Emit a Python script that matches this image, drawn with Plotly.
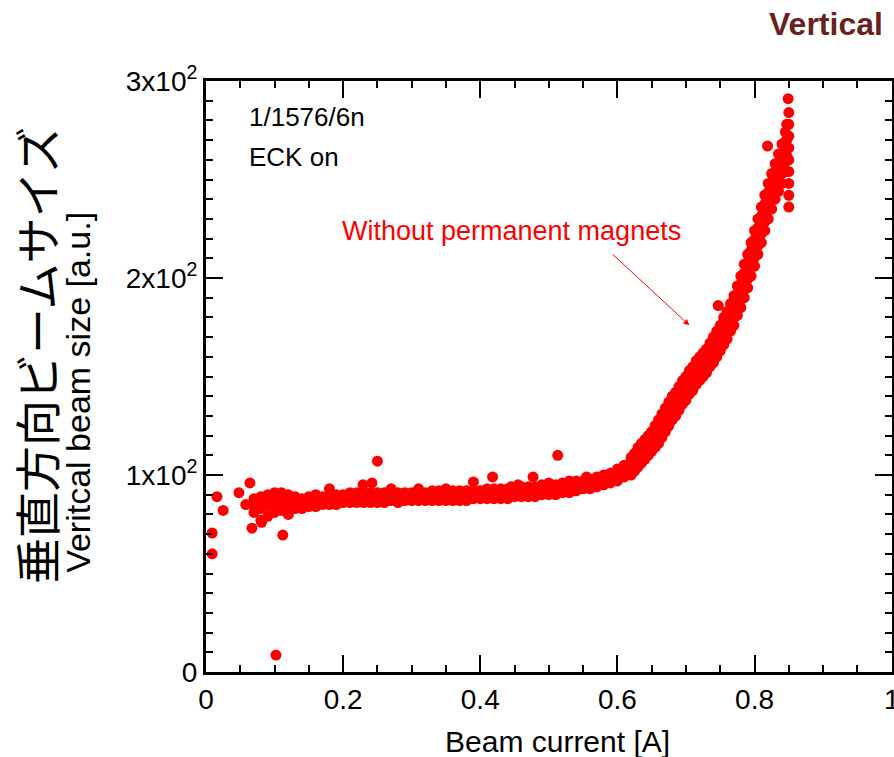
import plotly.graph_objects as go

# ---- data ----
# flat part of the band (x step 0.01): lower edge, centre and upper edge of the point cloud
band_x = [0.07, 0.08, 0.09, 0.10, 0.11, 0.12, 0.13, 0.14, 0.15, 0.16,
          0.17, 0.18, 0.19, 0.20, 0.21, 0.22, 0.23, 0.24, 0.25, 0.26,
          0.27, 0.28, 0.29, 0.30, 0.31, 0.32, 0.33, 0.34, 0.35, 0.36,
          0.37, 0.38, 0.39, 0.40, 0.41, 0.42, 0.43, 0.44, 0.45, 0.46,
          0.47, 0.48, 0.49, 0.50, 0.51, 0.52, 0.53, 0.54, 0.55, 0.56,
          0.57, 0.58, 0.59, 0.60, 0.61]
band_lo = [81, 77, 79, 81, 82, 80, 83, 83, 84, 84,
           85, 85, 85, 86, 86, 86, 86, 86, 86, 86,
           87, 86, 87, 87, 87, 87, 87, 87, 87, 87,
           87, 87, 88, 88, 88, 88, 88, 88, 89, 89,
           89, 89, 90, 90, 90, 91, 91, 92, 93, 93,
           94, 95, 96, 97, 99]
band_mid = [84.5, 83, 84.5, 86, 86.5, 85, 86, 85.5, 86.5, 87,
            87, 87.5, 87.5, 88, 88.5, 88.5, 88.5, 88.5, 88.5, 88.5,
            89, 88.5, 89, 89, 89.5, 89, 89.5, 89.5, 89.5, 89.5,
            89.5, 89.5, 90, 90, 90.5, 90.5, 90.5, 90.5, 91, 91.5,
            91.5, 91.5, 92.5, 92.5, 92.5, 93.5, 93.5, 94.5, 95, 95.5,
            96.5, 97.5, 98.5, 100, 102]
band_hi = [88, 89, 90, 91, 91, 90, 89, 88, 89, 90,
           89, 90, 90, 90, 91, 91, 91, 91, 91, 91,
           91, 91, 91, 91, 92, 91, 92, 92, 92, 92,
           92, 92, 92, 92, 93, 93, 93, 93, 93, 94,
           94, 94, 95, 95, 95, 96, 96, 97, 97, 98,
           99, 100, 101, 103, 105]

# steep part of the band (x step 0.005): five readings across the band width
steep_x = [0.620, 0.625, 0.630, 0.635, 0.640, 0.645, 0.650, 0.655, 0.660, 0.665,
           0.670, 0.675, 0.680, 0.685, 0.690, 0.695, 0.700, 0.705, 0.710, 0.715,
           0.720, 0.725, 0.730, 0.735, 0.740, 0.745, 0.750, 0.755, 0.760, 0.765,
           0.770, 0.775, 0.780, 0.785, 0.790, 0.795, 0.800, 0.805, 0.810, 0.815,
           0.820, 0.825, 0.830, 0.835, 0.840, 0.845]
steep_lo = [100, 102, 104, 106, 108, 110, 112, 114, 116, 119,
            122, 125, 128, 130, 133, 136, 138, 141, 143, 146,
            148, 150, 152, 155, 157, 160, 163, 166, 169, 173,
            176, 181, 185, 190, 195, 201, 206, 212, 218, 224,
            230, 235, 240, 244, 248, 254]
steep_q1 = [102.5, 104, 106.5, 108.5, 110.5, 112.5, 114.5, 117, 119, 122,
            125, 128, 131, 133, 136, 139, 141, 144, 146, 149,
            151, 153, 155, 158, 160.5, 163, 166.5, 169.5, 172.5, 176.5,
            180, 184.5, 189, 194, 199.5, 205.5, 210.5, 216.5, 222.5, 228.5,
            234.5, 239.5, 244.5, 249, 253, 259]
steep_mid = [105, 106, 109, 111, 113, 115, 117, 120, 122, 125,
             128, 131, 134, 136, 139, 142, 144, 147, 149, 152,
             154, 156, 158, 161, 164, 166, 170, 173, 176, 180,
             184, 188, 193, 198, 204, 210, 215, 221, 227, 233,
             239, 244, 249, 254, 258, 264]
steep_q3 = [107, 108.5, 111.5, 113.5, 115.5, 117.5, 119.5, 122.5, 125, 128,
            131, 134, 137, 139, 142, 145, 147, 150, 152, 155,
            157, 159, 161, 164, 167, 169.5, 173, 176.5, 179.5, 183.5,
            187.5, 192, 197, 202.5, 208, 214, 219.5, 225.5, 231.5, 237.5,
            243.5, 248.5, 253.5, 258.5, 263, 269]
steep_hi = [109, 111, 114, 116, 118, 120, 122, 125, 128, 131,
            134, 137, 140, 142, 145, 148, 150, 153, 155, 158,
            160, 162, 164, 167, 170, 173, 176, 180, 183, 187,
            191, 196, 201, 207, 212, 218, 224, 230, 236, 242,
            248, 253, 258, 263, 268, 274]

# extra points inside / on the band
extra_x = [0.08, 0.09, 0.10, 0.11, 0.12, 0.081, 0.18, 0.229, 0.242, 0.27,
           0.31, 0.35, 0.39, 0.418, 0.445, 0.455, 0.477, 0.50, 0.53, 0.555,
           0.819, 0.847, 0.847, 0.847, 0.85, 0.85, 0.85, 0.85, 0.85, 0.85,
           0.85, 0.85, 0.85]
extra_y = [84, 86, 87, 88, 86, 76, 93, 95, 96, 93,
           93, 93, 96.5, 99, 94, 95, 99, 96, 97, 99,
           267, 262, 270, 278, 236, 242, 248, 254, 260, 266,
           272, 278, 284]

# isolated outliers
out_x = [0.009, 0.009, 0.016, 0.025, 0.048, 0.058, 0.064, 0.067, 0.102, 0.112,
         0.25, 0.513, 0.747, 0.849]
out_y = [70.5, 60, 89, 82, 91, 85, 96, 73, 8.6, 69.5,
         107, 110, 186, 291]

x_tickvals = [0, 0.2, 0.4, 0.6, 0.8, 1.0]
x_ticktext = ["0", "0.2", "0.4", "0.6", "0.8", "1"]
y_tickvals = [0, 100, 200, 300]
y_ticktext = ["0", "1x10<sup>2</sup>", "2x10<sup>2</sup>", "3x10<sup>2</sup>"]

# ---- assemble points ----
xs, ys = [], []
for x, lo, mid, hi in zip(band_x, band_lo, band_mid, band_hi):
    xs += [x, x, x]
    ys += [lo, mid, hi]
for row in zip(steep_x, steep_lo, steep_q1, steep_mid, steep_q3, steep_hi):
    xs += [row[0]] * 5
    ys += list(row[1:])
xs += extra_x + out_x
ys += extra_y + out_y

FONT = "Liberation Sans, Arial, Helvetica, sans-serif"
RED = "#FF0000"

fig = go.Figure()
fig.add_trace(go.Scatter(
    x=xs, y=ys, mode="markers",
    marker=dict(size=11, color=RED, line=dict(width=0)),
    showlegend=False, hoverinfo="x+y",
))

axis_common = dict(
    ticks="inside", ticklen=17, tickwidth=2, tickcolor="black",
    showline=True, linewidth=3, linecolor="black", mirror="allticks",
    showgrid=False, zeroline=False, ticklabeloverflow="allow", automargin=False,
    tickfont=dict(family=FONT, size=28, color="black"),
)

fig.update_layout(
    width=894, height=757,
    margin=dict(l=206, r=2, t=81, b=85, autoexpand=False),
    paper_bgcolor="white", plot_bgcolor="white",
    font=dict(family=FONT, color="black"),
    xaxis=dict(range=[0, 1.0005], tickmode="array", tickvals=x_tickvals, ticktext=x_ticktext,
               minor=dict(dtick=0.05, ticks="inside", ticklen=7, tickwidth=2,
                          tickcolor="black", showgrid=False),
               **axis_common),
    yaxis=dict(range=[0, 300], tickmode="array", tickvals=y_tickvals, ticktext=y_ticktext,
               minor=dict(dtick=10, ticks="inside", ticklen=7, tickwidth=2,
                          tickcolor="black", showgrid=False),
               **axis_common),
)

annotations = [
    dict(text="Beam current [A]", x=0.513, y=-0.118, xref="paper", yref="paper",
         showarrow=False, xanchor="center", yanchor="middle",
         font=dict(family=FONT, size=30, color="black")),
    dict(text="Veritcal beam size [a.u.]", x=-0.1866, y=0.474, xref="paper", yref="paper",
         showarrow=False, textangle=-90, xanchor="center", yanchor="middle",
         font=dict(family=FONT, size=34, color="black")),
    dict(text="垂直方向ビームサイズ", x=-0.249, y=0.535, xref="paper", yref="paper",
         showarrow=False, textangle=-90, xanchor="center", yanchor="middle",
         font=dict(family="Noto Sans CJK JP", size=46, color="black")),
    dict(text="<b>Vertical</b>", x=0.99, y=1.096, xref="paper", yref="paper",
         showarrow=False, xanchor="right", yanchor="middle",
         font=dict(family=FONT, size=32, color="#6B1F20")),
    dict(text="1/1576/6n", x=0.06, y=0.939, xref="paper", yref="paper",
         showarrow=False, xanchor="left", yanchor="middle",
         font=dict(family=FONT, size=26, color="black")),
    dict(text="ECK on", x=0.06, y=0.871, xref="paper", yref="paper",
         showarrow=False, xanchor="left", yanchor="middle",
         font=dict(family=FONT, size=26, color="black")),
    dict(text="Without permanent magnets", x=0.195, y=0.746, xref="paper", yref="paper",
         showarrow=False, xanchor="left", yanchor="middle",
         font=dict(family=FONT, size=27, color=RED)),
    dict(text="", x=0.705, y=176, xref="x", yref="y",
         ax=0.591, ay=212.7, axref="x", ayref="y",
         showarrow=True, arrowhead=2, arrowsize=1.2, arrowwidth=1, arrowcolor=RED),
]
fig.update_layout(annotations=annotations)

fig.write_html("out.html")
